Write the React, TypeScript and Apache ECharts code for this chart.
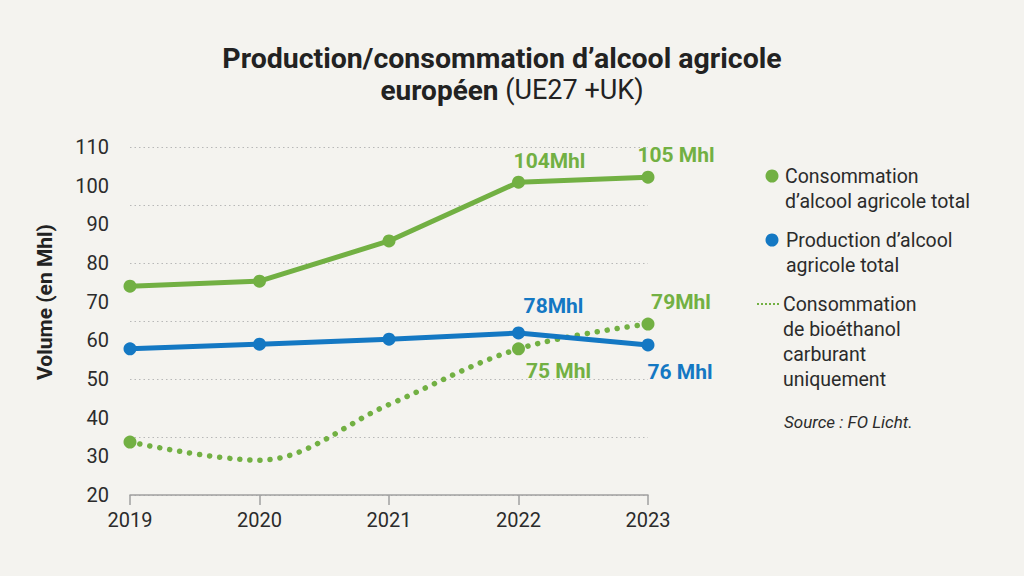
import React, { useEffect, useRef } from "react";
import * as echarts from "echarts";

const years = ["2019", "2020", "2021", "2022", "2023"];
const consoTotal = [74.0, 75.3, 85.7, 100.9, 102.2];
const prodTotal = [57.8, 59.0, 60.3, 61.9, 58.8];
const bioethanol = [33.7, 29.0, 43.4, 57.8, 64.2];
const bioMarkers = [true, false, false, true, true];
const consoLabels = ["", "", "", "104Mhl", "105 Mhl"];
const prodLabels = ["", "", "", "78Mhl", "76 Mhl"];
const bioLabels = ["", "", "", "75 Mhl", "79Mhl"];
const consoOffsets = [[0, 0], [0, 0], [0, 0], [31, -21], [28, -22]];
const prodOffsets = [[0, 0], [0, 0], [0, 0], [35, -27], [32, 27]];
const bioOffsets = [[0, 0], [0, 0], [0, 0], [40, 22], [33, -22]];
const legendNames = [
  "Consommation\nd’alcool agricole total",
  "Production d’alcool\nagricole total",
  "Consommation\nde bioéthanol\ncarburant\nuniquement",
];
const titleLine1 = "Production/consommation d’alcool agricole";
const titleLine2Bold = "européen";
const titleLine2Reg = "(UE27 +UK)";
const yAxisName = "Volume (en Mhl)";
const sourceText = "Source : FO Licht.";

const GREEN = "#72b043";
const BLUE = "#1478c3";
const TEXT = "#2b2b2b";
const FONT = "Roboto, 'Liberation Sans', sans-serif";

function makeData(vals: number[], labels: string[], offsets: number[][], color: string, markers?: boolean[]) {
  return vals.map((v, i) => {
    const item: any = { value: v };
    if (markers && !markers[i]) item.symbol = "none";
    if (labels[i]) {
      item.label = {
        show: true,
        position: "inside",
        offset: offsets[i],
        formatter: labels[i],
        color,
        fontFamily: FONT,
        fontWeight: "bold",
        fontSize: 21,
      };
    }
    return item;
  });
}

export default function App() {
  const ref = useRef<HTMLDivElement>(null);
  useEffect(() => {
    if (!ref.current) return;
    const chart = echarts.init(ref.current, null, { renderer: "svg" });
    chart.setOption({
      animation: false,
      backgroundColor: "#f4f3ef",
      textStyle: { fontFamily: FONT },
      grid: { left: 130, right: 376, top: 147, bottom: 81, containLabel: false },
      xAxis: {
        type: "category",
        data: years,
        boundaryGap: false,
        axisLine: { show: true, lineStyle: { color: "#a0a0a0", width: 1.5 } },
        axisTick: { show: true, inside: false, length: 10, lineStyle: { color: "#a0a0a0", width: 1.5 } },
        axisLabel: { color: TEXT, fontSize: 20, margin: 15, fontFamily: FONT },
        splitLine: { show: false },
      },
      yAxis: [
        {
          type: "value",
          min: 20,
          max: 110,
          interval: 10,
          axisLine: { show: false },
          axisTick: { show: false },
          axisLabel: { color: TEXT, fontSize: 20, margin: 21, fontFamily: FONT },
          splitLine: { show: false },
        },
        {
          type: "value",
          min: 20,
          max: 110,
          interval: 15,
          position: "left",
          axisLine: { show: false },
          axisTick: { show: false },
          axisLabel: { show: false },
          splitLine: { show: true, lineStyle: { color: "#b8b8b8", width: 1, type: [1.5, 3] } },
        },
      ],
      series: [
        {
          type: "line",
          data: makeData(bioethanol, bioLabels, bioOffsets, GREEN, bioMarkers),
          smooth: 0.35,
          symbol: "circle",
          symbolSize: 13,
          itemStyle: { color: GREEN },
          lineStyle: { color: GREEN, width: 5.5, type: [0.1, 10], cap: "round" },
          z: 2,
        },
        {
          type: "line",
          data: makeData(prodTotal, prodLabels, prodOffsets, BLUE),
          symbol: "circle",
          symbolSize: 13,
          itemStyle: { color: BLUE },
          lineStyle: { color: BLUE, width: 5 },
          z: 3,
        },
        {
          type: "line",
          data: makeData(consoTotal, consoLabels, consoOffsets, GREEN),
          symbol: "circle",
          symbolSize: 13,
          itemStyle: { color: GREEN },
          lineStyle: { color: GREEN, width: 5 },
          z: 4,
        },
      ],
      graphic: [
        {
          type: "text",
          x: 502,
          y: 58,
          style: {
            text: titleLine1,
            fill: "#222",
            font: `bold 28.5px ${FONT}`,
            textAlign: "center",
            textVerticalAlign: "middle",
          },
        },
        {
          type: "text",
          x: 512,
          y: 90,
          style: {
            text: `{b|${titleLine2Bold}}{r| ${titleLine2Reg}}`,
            textAlign: "center",
            textVerticalAlign: "middle",
            rich: {
              b: { fontFamily: FONT, fontWeight: "bold", fontSize: 28, fill: "#222", color: "#222" },
              r: { fontFamily: FONT, fontWeight: "normal", fontSize: 27, fill: "#222", color: "#222" },
            },
          },
        },
        {
          type: "text",
          x: 45,
          y: 302,
          rotation: Math.PI / 2,
          style: {
            text: yAxisName,
            fill: "#222",
            font: `bold 21px ${FONT}`,
            textAlign: "center",
            textVerticalAlign: "middle",
          },
        },
        { type: "circle", shape: { cx: 772, cy: 176, r: 6.5 }, style: { fill: GREEN } },
        {
          type: "text",
          x: 785,
          y: 163.5,
          style: { text: legendNames[0], fill: TEXT, font: `19.5px ${FONT}`, lineHeight: 25, textVerticalAlign: "top" },
        },
        { type: "circle", shape: { cx: 772, cy: 240, r: 6.5 }, style: { fill: BLUE } },
        {
          type: "text",
          x: 786,
          y: 227.5,
          style: { text: legendNames[1], fill: TEXT, font: `19.5px ${FONT}`, lineHeight: 25, textVerticalAlign: "top" },
        },
        {
          type: "line",
          shape: { x1: 757, y1: 304, x2: 781, y2: 304 },
          style: { stroke: GREEN, lineWidth: 2, lineDash: [2, 2] },
        },
        {
          type: "text",
          x: 783,
          y: 291.5,
          style: { text: legendNames[2], fill: TEXT, font: `19.5px ${FONT}`, lineHeight: 25, textVerticalAlign: "top" },
        },
        {
          type: "text",
          x: 784,
          y: 422,
          style: { text: sourceText, fill: TEXT, font: `italic 17px ${FONT}`, textVerticalAlign: "middle" },
        },
      ],
    });
    return () => chart.dispose();
  }, []);
  return <div ref={ref} style={{ position: "fixed", left: 0, top: 0, width: 1024, height: 576 }} />;
}
